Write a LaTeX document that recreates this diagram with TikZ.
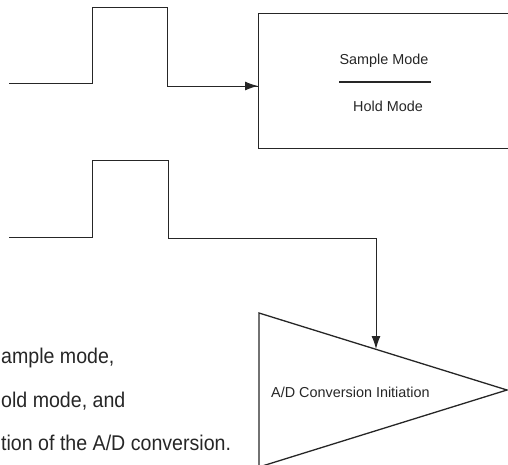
\documentclass[tikz,border=0pt]{standalone}
\usepackage{fontspec}
\setmainfont{Liberation Sans}
\newfontfamily\condfont{Liberation Sans}[FakeStretch=0.92]
\usetikzlibrary{arrows.meta}

\tikzset{
  wave/.style={line width=1pt, line join=miter, draw=black!85},
  outline/.style={draw=black!85, line width=1.3pt},
  tip/.style={-{Latex[length=13pt,width=9pt]}},
  boxtext/.style={inner sep=0pt, text=black!85, font=\fontsize{14.4}{16}\selectfont},
  bodytext/.style={inner sep=0pt, anchor=base west, text=black!85, font=\condfont\fontsize{21.3}{24}\selectfont}
}

\begin{document}
\begin{tikzpicture}[x=1pt, y=-1pt]
  \useasboundingbox (0,0) rectangle (508,464);

  % sample / hold box, cut by the right edge
  \node[outline, anchor=north west, minimum width=256pt, minimum height=135pt] (modebox) at (258,13) {};
  \node[boxtext, anchor=base] (sample) at (384,64) {Sample Mode};
  \node[boxtext, anchor=base] (hold) at (388,111) {Hold Mode};
  \draw[line width=1.8pt, black!85] (339,82) -- (431,82);

  % conversion triangle, cut by the bottom edge
  \coordinate (tritop) at (259,313);
  \coordinate (triapex) at (507,390);
  \coordinate (tribot) at (259,467);
  \draw[outline] (tritop) -- (triapex) -- (tribot) -- cycle;
  \node[boxtext, anchor=base west] (convlabel) at (271,397) {A/D Conversion Initiation};

  % pulses
  \coordinate (inA) at (9,83);
  \coordinate (hitA) at (258,86);
  \draw[wave] (inA) -- (92,83) -- (92,7) -- (167,7) -- (167,86) -- (hitA);
  \draw[wave, tip] (200,86) -- (hitA);

  \coordinate (inB) at (9,237);
  \coordinate (bendB) at (376,238);
  \coordinate (hitB) at (376,349);
  \draw[wave] (inB) -- (92,237) -- (92,160) -- (168,160) -- (168,238) -- (bendB);
  \draw[wave, tip] (bendB) -- (hitB);

  % text cut off on the left
  \node[bodytext] (lineone) at (1,363) {ample mode,};
  \node[bodytext] (linetwo) at (1,407) {old mode, and};
  \node[bodytext] (linethree) at (1,450) {tion of the A/D conversion.};
\end{tikzpicture}
\end{document}
